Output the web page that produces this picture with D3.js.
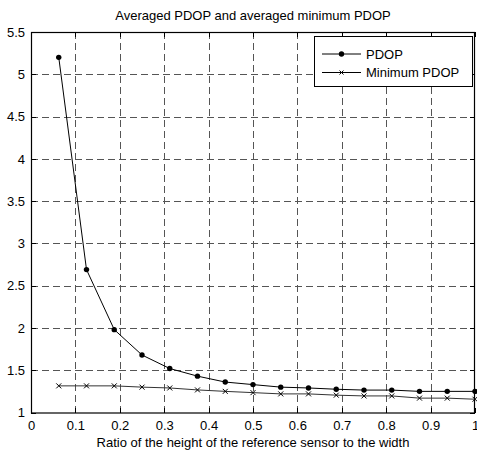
<!DOCTYPE html>
<html>
<head>
<meta charset="utf-8">
<script src="https://cdn.jsdelivr.net/npm/d3@7"></script>
<style>
body{margin:0;background:#fff;}
svg{display:block;font-family:"Liberation Sans",Arial,sans-serif;}
</style>
</head>
<body>
<svg id="chart" width="477" height="452"></svg>
<script>
const xValues = [0.0625,0.125,0.1875,0.25,0.3125,0.375,0.4375,0.5,0.5625,0.625,0.6875,0.75,0.8125,0.875,0.9375,1.0];
const pdop = [5.20,2.69,1.98,1.68,1.52,1.43,1.36,1.33,1.30,1.29,1.275,1.265,1.265,1.25,1.25,1.25];
const minPdop = [1.315,1.315,1.315,1.30,1.29,1.267,1.25,1.235,1.22,1.22,1.205,1.196,1.196,1.17,1.17,1.157];
const xTicks = [0,0.1,0.2,0.3,0.4,0.5,0.6,0.7,0.8,0.9,1];
const yTicks = [1,1.5,2,2.5,3,3.5,4,4.5,5,5.5];
const seriesNames = ["PDOP","Minimum PDOP"];
const titleText = "Averaged PDOP and averaged minimum PDOP";
const xLabelText = "Ratio of the height of the reference sensor to the width";

const svg = d3.select("#chart");
const L = 31, R = 475, T = 32, B = 412.5;
const x = d3.scaleLinear().domain([0,1]).range([L,R]);
const y = d3.scaleLinear().domain([1,5.5]).range([B,T]);

// grid
const grid = svg.append("g").attr("stroke","#555").attr("stroke-width",1).attr("stroke-dasharray","7,4").attr("shape-rendering","crispEdges");
xTicks.slice(1,-1).forEach(t=>{
  grid.append("line").attr("x1",Math.round(x(t))+0.5).attr("x2",Math.round(x(t))+0.5).attr("y1",T).attr("y2",B);
});
yTicks.slice(1,-1).forEach(t=>{
  grid.append("line").attr("y1",Math.round(y(t))+0.5).attr("y2",Math.round(y(t))+0.5).attr("x1",L).attr("x2",R);
});

// axes
const fs = 13;
const xAxisB = d3.axisBottom(x).tickValues(xTicks).tickFormat(d3.format("")).tickSizeInner(-5).tickSizeOuter(0).tickPadding(8);
const xAxisT = d3.axisTop(x).tickValues(xTicks).tickFormat("").tickSizeInner(-5).tickSizeOuter(0);
const yAxisL = d3.axisLeft(y).tickValues(yTicks).tickFormat(d3.format("")).tickSizeInner(-5).tickSizeOuter(0).tickPadding(6);
const yAxisR = d3.axisRight(y).tickValues(yTicks).tickFormat("").tickSizeInner(-5).tickSizeOuter(0);

function styleAxis(g){
  g.select(".domain").remove();
  g.selectAll("line").attr("stroke","#000").attr("shape-rendering","crispEdges");
  g.selectAll("text").attr("fill","#000").attr("font-size",fs).attr("font-family","Liberation Sans, Arial, sans-serif");
}
svg.append("g").attr("transform",`translate(0,${B})`).call(xAxisB).call(styleAxis);
svg.append("g").attr("transform",`translate(0,${T})`).call(xAxisT).call(styleAxis);
svg.append("g").attr("transform",`translate(${L},0)`).call(yAxisL).call(styleAxis);
svg.append("g").attr("transform",`translate(${R},0)`).call(yAxisR).call(styleAxis);

// frame
svg.append("rect").attr("x",L+0.5).attr("y",T+0.5).attr("width",R-L-1).attr("height",B-T)
  .attr("fill","none").attr("stroke","#000").attr("stroke-width",1.2);

// lines
const line = d3.line().x(d=>x(d[0])).y(d=>y(d[1]));
const d1 = xValues.map((v,i)=>[v,pdop[i]]);
const d2 = xValues.map((v,i)=>[v,minPdop[i]]);
svg.append("path").attr("d",line(d1)).attr("fill","none").attr("stroke","#000").attr("stroke-width",1);
svg.append("path").attr("d",line(d2)).attr("fill","none").attr("stroke","#333").attr("stroke-width",1);
svg.append("g").selectAll("circle").data(d1).join("circle")
  .attr("cx",d=>x(d[0])).attr("cy",d=>y(d[1])).attr("r",2.7).attr("fill","#000");
const xm = 2.5;
svg.append("g").selectAll("path").data(d2).join("path")
  .attr("d",d=>{const cx=x(d[0]),cy=y(d[1]);return `M${cx-xm},${cy-xm}L${cx+xm},${cy+xm}M${cx-xm},${cy+xm}L${cx+xm},${cy-xm}`;})
  .attr("stroke","#000").attr("stroke-width",1).attr("fill","none");

// title
svg.append("text").attr("x",(L+R)/2).attr("y",20).attr("text-anchor","middle").attr("font-size",13).attr("fill","#000").text(titleText);
// x label
svg.append("text").attr("x",(L+R)/2).attr("y",447).attr("text-anchor","middle").attr("font-size",13).attr("fill","#000").text(xLabelText);

// legend
const lg = svg.append("g");
lg.append("rect").attr("x",314.5).attr("y",36.5).attr("width",158).attr("height",50).attr("fill","#fff").attr("stroke","#000").attr("stroke-width",1);
const ly = [54,72.5];
seriesNames.forEach((n,i)=>{
  lg.append("line").attr("x1",322).attr("x2",361).attr("y1",ly[i]).attr("y2",ly[i]).attr("stroke","#000");
  if(i===0){
    lg.append("circle").attr("cx",341.5).attr("cy",ly[i]).attr("r",2.7).attr("fill","#000");
  } else {
    const s=2;
    lg.append("path").attr("d",`M${341.5-s},${ly[i]-s}L${341.5+s},${ly[i]+s}M${341.5-s},${ly[i]+s}L${341.5+s},${ly[i]-s}`).attr("stroke","#000");
  }
  lg.append("text").attr("x",366).attr("y",ly[i]+4.5).attr("font-size",13).attr("fill","#000").text(n);
});
</script>
</body>
</html>
